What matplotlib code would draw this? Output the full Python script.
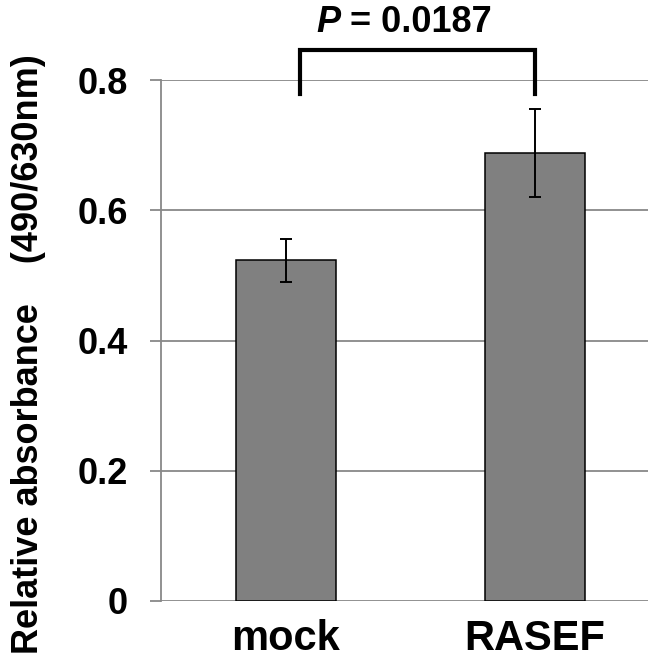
import matplotlib
matplotlib.use("Agg")
import matplotlib.pyplot as plt

categories = ["mock", "RASEF"]
values = [0.523, 0.688]
errors = [0.033, 0.068]
yticks = [0, 0.2, 0.4, 0.6, 0.8]
ytick_labels = ["0", "0.2", "0.4", "0.6", "0.8"]
p_text = "0.0187"
bracket_top = 0.846
bracket_bottom = 0.778

plt.rcParams['font.family'] = ['Liberation Sans', 'DejaVu Sans']
plt.rcParams['font.weight'] = 'bold'

W, H = 648, 664
fig = plt.figure(figsize=(W / 100, H / 100), dpi=100)
ax = fig.add_axes([161 / W, (H - 601) / H, (648 - 161) / W, (601 - 80) / H])

grid_c = "#888888"
x = list(range(len(categories)))
ax.bar(x, values, width=0.4, color="#808080", edgecolor="black", linewidth=1.1, zorder=3)
ax.errorbar(x, values, yerr=errors, fmt="none", ecolor="black", elinewidth=1.4,
            capsize=4.5, capthick=1.4, zorder=4)

ax.set_ylim(0, 0.8)
ax.set_xlim(-0.502, 1.454)
ax.set_yticks(yticks)
ax.set_yticklabels(ytick_labels, fontsize=26, fontweight="bold")
ax.set_xticks(x)
ax.set_xticklabels(categories, fontsize=30, fontweight="bold")
ax.tick_params(axis="y", length=8, width=1.3, color=grid_c, pad=16)
ax.tick_params(axis="x", length=0, pad=13)
ax.yaxis.grid(True, color=grid_c, linewidth=1.3, zorder=0)
ax.set_axisbelow(True)
for s in ["top", "right", "bottom"]:
    ax.spines[s].set_visible(False)
ax.spines["left"].set_color(grid_c)
ax.spines["left"].set_linewidth(1.3)

# significance bracket
ax.plot([x[0] + 0.056, x[0] + 0.056, x[1], x[1]],
        [bracket_bottom, bracket_top, bracket_top, bracket_bottom],
        color="black", linewidth=3, clip_on=False, solid_joinstyle="miter", zorder=5)

# P value text
fig.text(340 / W, (H - 32) / H, "P", fontsize=26, fontweight="bold", style="italic",
         ha="right", va="baseline")
fig.text(340 / W, (H - 32) / H, " = " + p_text, fontsize=26, fontweight="bold",
         ha="left", va="baseline")

fig.text(29 / W, (H - 354) / H, "Relative absorbance    (490/630nm)", rotation=90,
         fontsize=26, fontweight="bold", ha="center", va="center")

fig.savefig("out.png", dpi=100)
